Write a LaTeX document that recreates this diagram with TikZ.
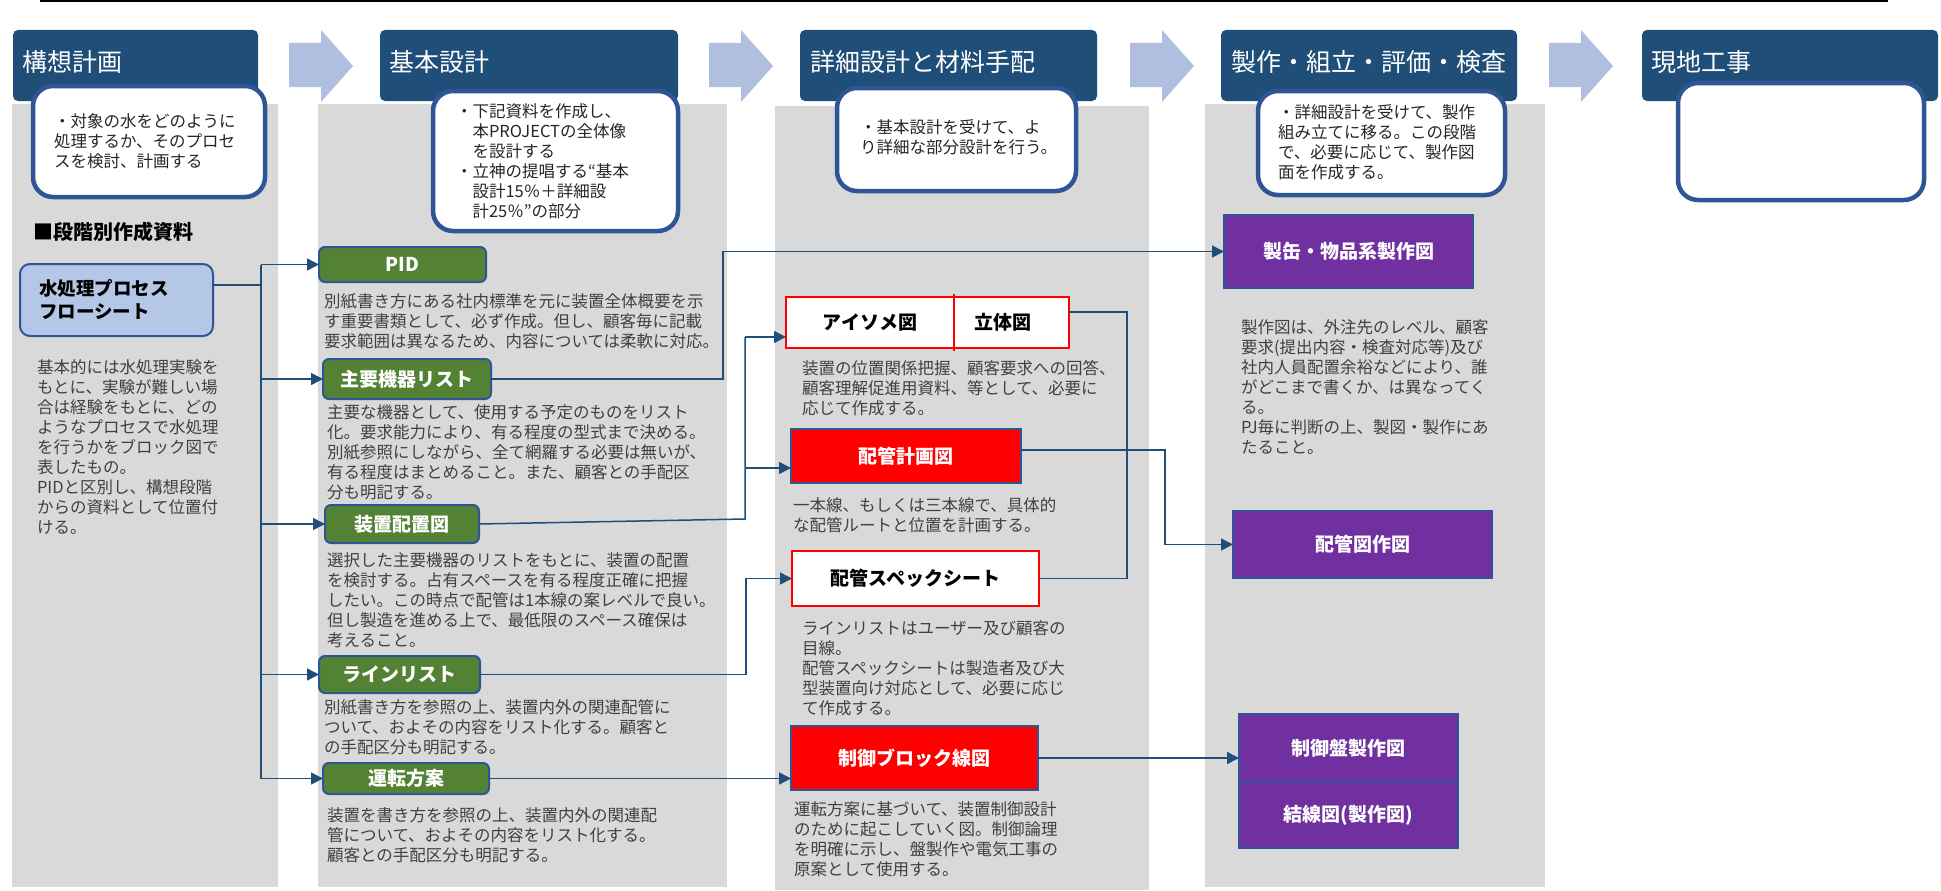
\documentclass[tikz,border=0pt]{standalone}
\usepackage{fontspec}
\setmainfont{Noto Sans CJK JP}
\usetikzlibrary{arrows.meta}
\definecolor{hdr}{HTML}{1F4E79}
\definecolor{panel}{HTML}{D9D9D9}
\definecolor{calloutb}{HTML}{2F5597}
\definecolor{chev}{HTML}{B0BEE0}
\definecolor{grn}{HTML}{548235}
\definecolor{purp}{HTML}{7030A0}
\definecolor{redc}{HTML}{FF0000}
\definecolor{fsfill}{HTML}{B4C7E7}
\definecolor{conncol}{HTML}{1F4E79}
\definecolor{desccol}{HTML}{404040}
\definecolor{callcol}{HTML}{262626}
\begin{document}
\begin{tikzpicture}[x=1pt,y=-1pt,
  every node/.style={inner sep=0pt, outer sep=0pt},
  panelbox/.style={fill=panel, anchor=north west, minimum height=783pt},
  hdrbox/.style={fill=hdr, rounded corners=5pt, anchor=north west, minimum height=71pt},
  hdrtext/.style={anchor=west, text=white, font=\fontsize{25}{30}\selectfont},
  callout/.style={draw=calloutb, line width=4.5pt, fill=white, rounded corners=20pt, anchor=north west},
  calltext/.style={anchor=north west, align=left, text=callcol, font=\fontsize{16.5}{20}\selectfont},
  desc/.style={anchor=north west, align=left, text=desccol, font=\fontsize{16.5}{20}\selectfont},
  boxfont/.style={font=\bfseries\fontsize{19}{23}\selectfont},
  greenbox/.style={boxfont, fill=grn, draw=calloutb, line width=2pt, rounded corners=6pt, text=white},
  redbox/.style={boxfont, fill=redc, draw=calloutb, line width=2.5pt, text=white},
  whitebox/.style={boxfont, fill=white, draw=redc, line width=2.5pt, text=black},
  purpbox/.style={boxfont, fill=purp, draw=calloutb, line width=2.5pt, text=white},
  conn/.style={draw=conncol, line width=1.5pt},
  arr/.style={conn, -{Triangle[length=12pt,width=12pt]}},
]
\useasboundingbox (0,0) rectangle (1941,891);

% top rule
\draw[black, line width=1.5pt] (40,1) -- (1888,1);

% panels
\node[panelbox, minimum width=266pt] (p1) at (12,104) {};
\node[panelbox, minimum width=409pt] (p2) at (318,104) {};
\node[panelbox, minimum width=374pt, minimum height=784pt] (p3) at (775,106) {};
\node[panelbox, minimum width=340pt] (p4) at (1205,104) {};

% chevrons
\foreach \s in {289,709,1130,1549}{
  \fill[chev] (\s,43) -- (\s+32,43) -- (\s+32,30) -- (\s+64,66) -- (\s+32,102) -- (\s+32,87) -- (\s,87) -- cycle;
}

% headers
\node[hdrbox, minimum width=245pt] (h1) at (13,30) {};
\node[hdrbox, minimum width=298pt] (h2) at (380,30) {};
\node[hdrbox, minimum width=297pt] (h3) at (800,30) {};
\node[hdrbox, minimum width=296pt] (h4) at (1221,30) {};
\node[hdrbox, minimum width=296pt] (h5) at (1642,30) {};
\node[hdrtext] (ht1) at (22,62) {構想計画};
\node[hdrtext] (ht2) at (389,62) {基本設計};
\node[hdrtext] (ht3) at (810,62) {詳細設計と材料手配};
\node[hdrtext] (ht4) at (1231,62) {製作・組立・評価・検査};
\node[hdrtext] (ht5) at (1651,62) {現地工事};

% callouts
\node[callout, minimum width=232pt, minimum height=111pt] (c1) at (33,86) {};
\node[callout, minimum width=245pt, minimum height=140pt] (c2) at (433,91) {};
\node[callout, minimum width=239pt, minimum height=103pt] (c3) at (837,88) {};
\node[callout, minimum width=247pt, minimum height=104pt] (c4) at (1258,91) {};
\node[callout, minimum width=246pt, minimum height=117pt] (c5) at (1678,83) {};

\node[calltext] (ct1) at (54,114) {・対象の水をどのように\\処理するか、そのプロセ\\スを検討、計画する};
\node[calltext] (ct2) at (456,104) {・下記資料を作成し、\\\hspace*{1em}本PROJECTの全体像\\\hspace*{1em}を設計する\\・立神の提唱する“基本\\\hspace*{1em}設計15％＋詳細設\\\hspace*{1em}計25％”の部分};
\node[calltext] (ct3) at (860,120) {・基本設計を受けて、よ\\り詳細な部分設計を行う。};
\node[calltext] (ct4) at (1278,105) {・詳細設計を受けて、製作\\組み立てに移る。この段階\\で、必要に応じて、製作図\\面を作成する。};

% section title
\node[anchor=west, font=\bfseries\fontsize{20}{24}\selectfont] (sec) at (33,232) {■段階別作成資料};

% flow sheet
\node[draw=calloutb, line width=2pt, fill=fsfill, rounded corners=10pt, minimum width=193pt, minimum height=72pt, text width=155pt, inner xsep=19pt, align=left, font=\bfseries\fontsize{18.5}{23}\selectfont] (fs) at (116.5,300) {水処理プロセス\\フローシート};
\node[desc] (fsd) at (37,360) {基本的には水処理実験を\\もとに、実験が難しい場\\合は経験をもとに、どの\\ようなプロセスで水処理\\を行うかをブロック図で\\表したもの。\\PIDと区別し、構想段階\\からの資料として位置付\\ける。};

% green boxes (basic design)
\node[greenbox, minimum width=167pt, minimum height=35pt] (pid) at (402.5,264.5) {PID};
\node[greenbox, minimum width=168pt, minimum height=40pt] (kiki) at (407,379) {主要機器リスト};
\node[greenbox, minimum width=154pt, minimum height=38pt] (haichi) at (402,524) {装置配置図};
\node[greenbox, minimum width=161pt, minimum height=37pt] (line) at (399.5,674.5) {ラインリスト};
\node[greenbox, minimum width=166pt, minimum height=31pt] (unten) at (406,778.5) {運転方案};

\node[desc] (pidd) at (324,294) {別紙書き方にある社内標準を元に装置全体概要を示\\す重要書類として、必ず作成。但し、顧客毎に記載\\要求範囲は異なるため、内容については柔軟に対応。};
\node[desc] (kikid) at (327,405) {主要な機器として、使用する予定のものをリスト\\化。要求能力により、有る程度の型式まで決める。\\別紙参照にしながら、全て網羅する必要は無いが、\\有る程度はまとめること。また、顧客との手配区\\分も明記する。};
\node[desc] (haichid) at (327,553) {選択した主要機器のリストをもとに、装置の配置\\を検討する。占有スペースを有る程度正確に把握\\したい。この時点で配管は1本線の案レベルで良い。\\但し製造を進める上で、最低限のスペース確保は\\考えること。};
\node[desc] (lined) at (324,700) {別紙書き方を参照の上、装置内外の関連配管に\\ついて、およその内容をリスト化する。顧客と\\の手配区分も明記する。};
\node[desc] (untend) at (327,808) {装置を書き方を参照の上、装置内外の関連配\\管について、およその内容をリスト化する。\\顧客との手配区分も明記する。};

% detailed design boxes
\node[whitebox, minimum width=168pt, minimum height=51pt] (iso) at (870,322.5) {アイソメ図};
\node[whitebox, minimum width=115pt, minimum height=51pt] (ritai) at (1011.5,322.5) {立体図\hspace*{18pt}};
\draw[redc, line width=2pt] ([yshift=3pt]ritai.north west) -- ([yshift=-3pt]ritai.south west);
\node[desc] (isod) at (802,360) {装置の位置関係把握、顧客要求への回答、\\顧客理解促進用資料、等として、必要に\\応じて作成する。};
\node[redbox, minimum width=230pt, minimum height=54pt] (keikaku) at (906,456) {配管計画図};
\node[desc] (keikakud) at (793,498) {一本線、もしくは三本線で、具体的\\な配管ルートと位置を計画する。};
\node[whitebox, minimum width=247pt, minimum height=55pt] (spec) at (915.5,578.5) {配管スペックシート};
\node[desc] (specd) at (802,621) {ラインリストはユーザー及び顧客の\\目線。\\配管スペックシートは製造者及び大\\型装置向け対応として、必要に応じ\\て作成する。};
\node[redbox, minimum width=247pt, minimum height=64pt] (block) at (914.5,758) {制御ブロック線図};
\node[desc] (blockd) at (794,802) {運転方案に基づいて、装置制御設計\\のために起こしていく図。制御論理\\を明確に示し、盤製作や電気工事の\\原案として使用する。};

% fabrication boxes
\node[purpbox, minimum width=249pt, minimum height=73pt] (kan) at (1348.5,251.5) {製缶・物品系製作図};
\node[desc] (kand) at (1241,320) {製作図は、外注先のレベル、顧客\\要求(提出内容・検査対応等)及び\\社内人員配置余裕などにより、誰\\がどこまで書くか、は異なってく\\る。\\PJ毎に判断の上、製図・製作にあ\\たること。};
\node[purpbox, minimum width=259pt, minimum height=67pt] (haikan) at (1362.5,544.5) {配管図作図};
\node[purpbox, minimum width=219pt, minimum height=68pt] (seigyo) at (1348.5,748) {制御盤製作図};
\node[purpbox, minimum width=219pt, minimum height=66pt] (kessen) at (1348.5,815) {結線図(製作図)};

% connectors
\coordinate (tr1) at (261,264.5);
\coordinate (fsj) at (261,285);
\draw[conn] (fs.east |- fsj) -- (fsj);
\draw[conn] (tr1) -- (tr1 |- unten.west);
\draw[arr] (tr1) -- (pid.west);
\draw[arr] (tr1 |- kiki.west) -- (kiki.west);
\draw[arr] (tr1 |- haichi.west) -- (haichi.west);
\draw[arr] (tr1 |- line.west) -- (line.west);
\draw[arr] (tr1 |- unten.west) -- (unten.west);

\coordinate (j1) at (723,0);
\draw[arr] (kiki.east) -| (j1 |- kan.west) -- (kan.west);

\coordinate (j2) at (745,337);
\coordinate (j3) at (745,468);
\coordinate (j4) at (745,519);
\draw[conn] (haichi.east) -- (j4) -- (j2);
\draw[arr] (j2) -- (iso.west |- j2);
\draw[arr] (j3) -- (keikaku.west |- j3);

\coordinate (j5) at (746,0);
\draw[arr] (line.east) -| (j5 |- spec.west) -- (spec.west);

\draw[arr] (unten.east) -- (unten.east -| block.west);

\coordinate (j6) at (1127,312);
\draw[conn] (ritai.east |- j6) -- (j6) |- (spec.east);

\coordinate (j7) at (1165,450);
\draw[arr] (keikaku.east |- j7) -- (j7) |- (haikan.west);

\draw[arr] (block.east) -- (block.east -| seigyo.west);
\end{tikzpicture}
\end{document}
